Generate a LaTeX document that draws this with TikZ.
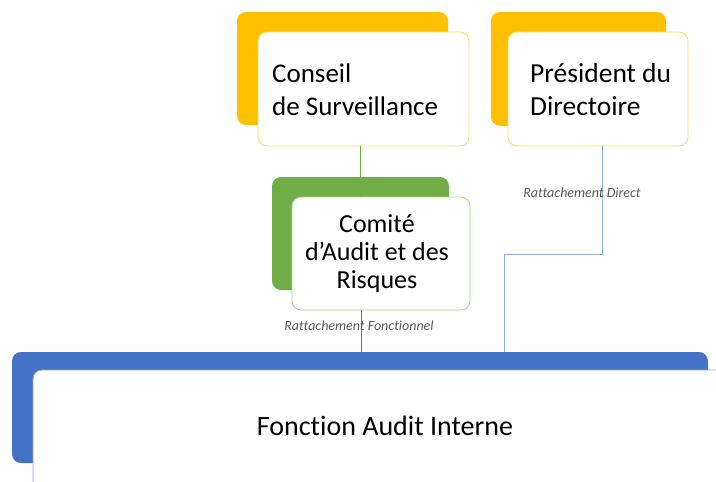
\documentclass[tikz,border=0pt]{standalone}
\usepackage{fontspec}
\setmainfont{Carlito}[Ligatures=NoCommon]
\definecolor{gold}{HTML}{FFC000}
\definecolor{goldline}{HTML}{FFD966}
\definecolor{grn}{HTML}{70AD47}
\definecolor{grnline}{HTML}{A9D18E}
\definecolor{blu}{HTML}{4472C4}
\definecolor{bluline}{HTML}{8FAADC}
\definecolor{txtgray}{HTML}{595959}
\begin{document}
\begin{tikzpicture}[x=1pt,y=-1pt,
  back/.style={rectangle, rounded corners=9pt, inner sep=0pt, outer sep=0pt, anchor=north west, draw=none},
  front/.style={rectangle, rounded corners=9pt, fill=white, inner sep=0pt, outer sep=0pt, anchor=north west, line width=0.8pt},
  big/.style={font=\fontsize{27}{30}\selectfont, inner sep=0pt, text=black},
  small/.style={font=\fontsize{14}{16}\selectfont\itshape, text=txtgray, inner sep=0pt, anchor=base},
  conn/.style={line width=0.8pt}]
\useasboundingbox (0,0) rectangle (716,482);
\clip (0,0) rectangle (716,482);

% back shapes
\node[back, fill=gold, minimum width=211pt, minimum height=113pt] (conseilback) at (237,12) {};
\node[back, fill=gold, minimum width=175pt, minimum height=114pt] (presback) at (491,12) {};
\node[back, fill=grn, minimum width=177pt, minimum height=113pt] (comiteback) at (272,177) {};
\node[back, fill=blu, minimum width=696pt, minimum height=111pt] (auditback) at (12,352) {};

% front boxes
\node[front, draw=goldline, minimum width=211pt, minimum height=114pt] (conseil) at (258,32) {};
\node[front, draw=goldline, minimum width=180pt, minimum height=114pt] (pres) at (508,32) {};
\node[front, draw=grnline, minimum width=178pt, minimum height=113pt] (comite) at (292,197) {};
\node[front, draw=bluline, minimum width=720pt, minimum height=140pt] (audit) at (33,370) {};

% connectors
\coordinate (bend1) at (602,254);
\coordinate (bend2) at (504,254);
\draw[conn, grn] (360,0 |- conseil.south) -- (360,0 |- comite.north);
\draw[conn, blu] (361,0 |- comite.south) -- (361,0 |- auditback.north);
\draw[conn, bluline] (602,0 |- pres.south) -- (bend1) -- (bend2) -- (504,0 |- auditback.north);

% texts
\node[big, anchor=base west] (t1) at (272,82) {Conseil};
\node[big, anchor=base west] (t2) at (272,115) {de Surveillance};
\node[big, anchor=base west, font=\fontsize{27.5}{30}\selectfont] (t3) at (530,82) {Président du};
\node[big, anchor=base west, font=\fontsize{27.5}{30}\selectfont] (t4) at (530,115) {Directoire};
\node[big, anchor=base, font=\fontsize{26}{30}\selectfont] (t5) at (377,232) {Comité};
\node[big, anchor=base, font=\fontsize{26}{30}\selectfont] (t6) at (377,260) {d’Audit et des};
\node[big, anchor=base, font=\fontsize{26}{30}\selectfont] (t7) at (377,288) {Risques};
\node[big, anchor=base, font=\fontsize{28}{30}\selectfont] (t8) at (385,435) {Fonction Audit Interne};
\node[small] (l1) at (582,197) {Rattachement Direct};
\node[small] (l2) at (359,330) {Rattachement Fonctionnel};
\end{tikzpicture}
\end{document}
